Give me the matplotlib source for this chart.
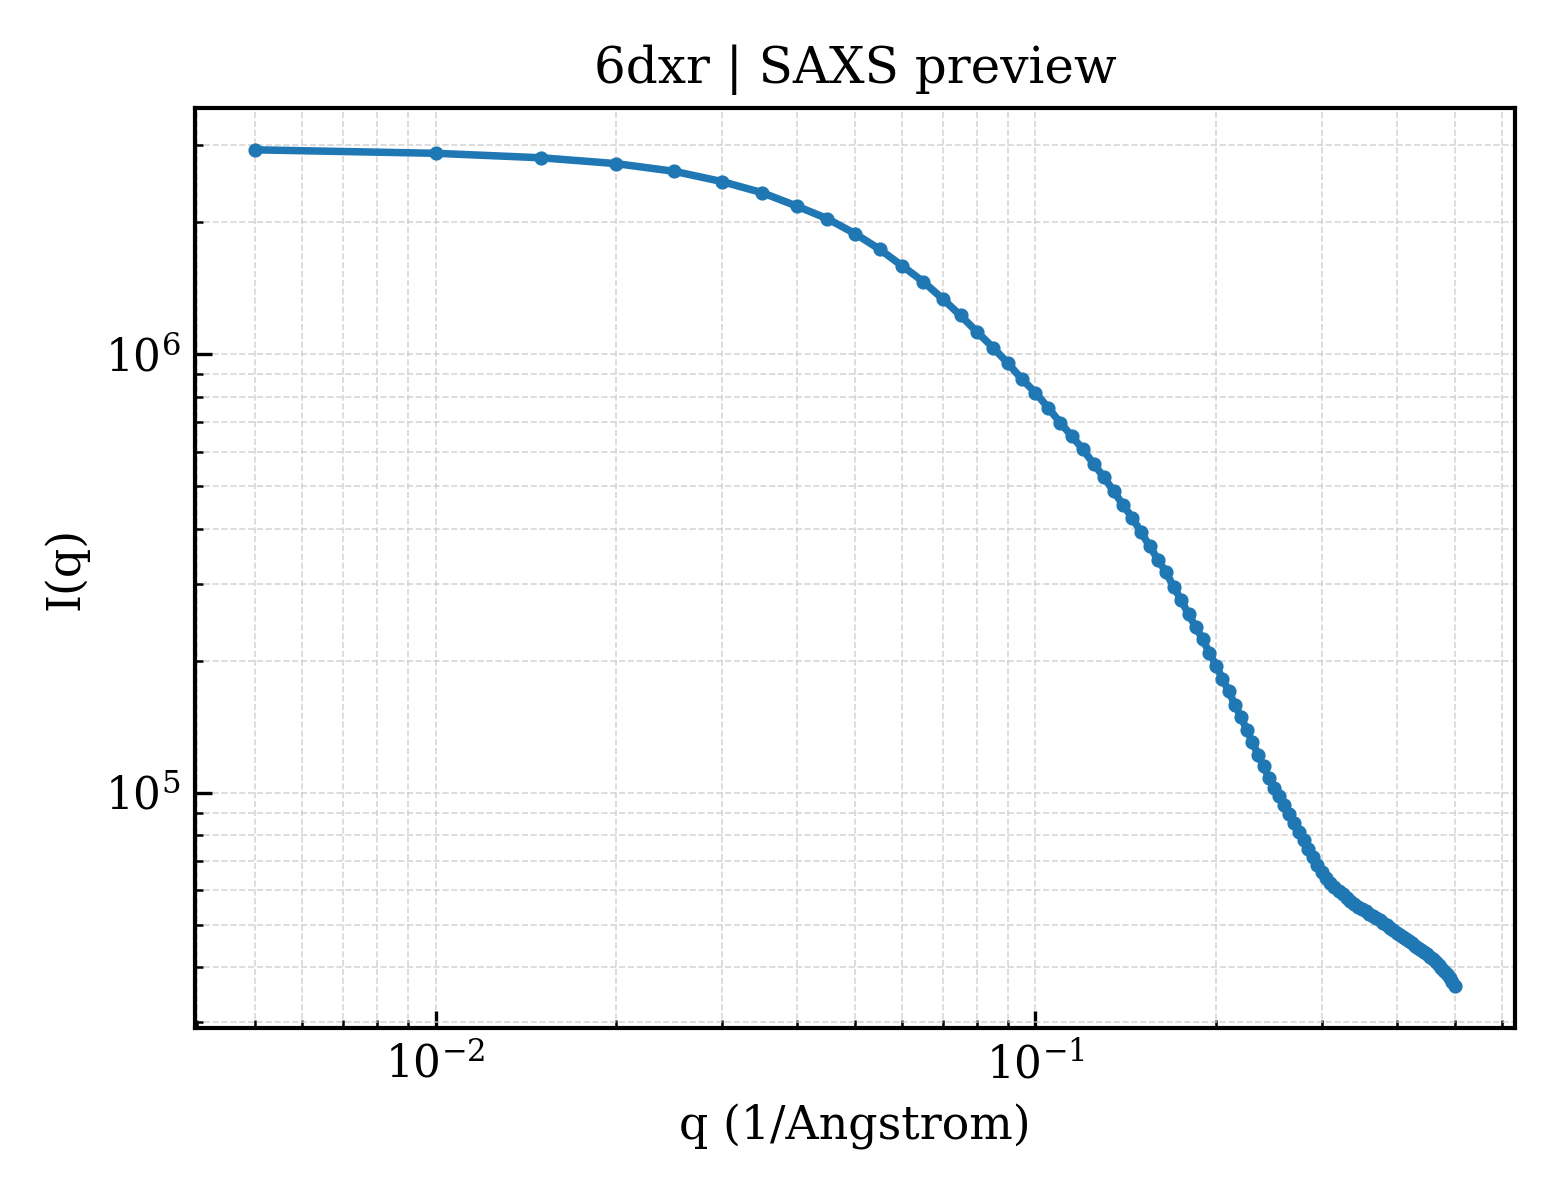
import numpy as np
import matplotlib
matplotlib.use("Agg")
import matplotlib.pyplot as plt

plt.rcParams['font.family'] = ['DejaVu Serif']
plt.rcParams['mathtext.fontset'] = 'dejavuserif'

# q values (1/Angstrom)
q = [0.005, 0.010, 0.015, 0.020, 0.025, 0.030, 0.035, 0.040, 0.045, 0.050,
     0.055, 0.060, 0.065, 0.070, 0.075, 0.080, 0.085, 0.090, 0.095, 0.100,
     0.105, 0.110, 0.115, 0.120, 0.125, 0.130, 0.135, 0.140, 0.145, 0.150,
     0.155, 0.160, 0.165, 0.170, 0.175, 0.180, 0.185, 0.190, 0.195, 0.200,
     0.205, 0.210, 0.215, 0.220, 0.225, 0.230, 0.235, 0.240, 0.245, 0.250,
     0.255, 0.260, 0.265, 0.270, 0.275, 0.280, 0.285, 0.290, 0.295, 0.300,
     0.305, 0.310, 0.315, 0.320, 0.325, 0.330, 0.335, 0.340, 0.345, 0.350,
     0.355, 0.360, 0.365, 0.370, 0.375, 0.380, 0.385, 0.390, 0.395, 0.400,
     0.405, 0.410, 0.415, 0.420, 0.425, 0.430, 0.435, 0.440, 0.445, 0.450,
     0.455, 0.460, 0.465, 0.470, 0.475, 0.480, 0.485, 0.490, 0.495, 0.500]

# I(q) intensities
intensity = [2.930e6, 2.877e6, 2.810e6, 2.725e6, 2.617e6, 2.480e6, 2.340e6, 2.180e6, 2.040e6, 1.887e6,
             1.737e6, 1.591e6, 1.466e6, 1.340e6, 1.227e6, 1.124e6, 1.036e6, 0.954e6, 0.877e6, 0.818e6,
             0.7555e6, 0.698e6, 0.651e6, 0.607e6, 0.563e6, 0.5247e6, 0.4875e6, 0.453e6, 0.4239e6, 0.393e6,
             0.365e6, 0.3404e6, 0.3184e6, 0.2949e6, 0.2748e6, 0.2550e6, 0.2390e6, 0.2236e6, 0.2084e6, 0.1950e6,
             0.1818e6, 0.1703e6, 0.1588e6, 0.1489e6, 0.1392e6, 0.1302e6, 0.1221e6, 0.1148e6, 0.1080e6, 0.1025e6,
             98.1e3, 93.6e3, 89.5e3, 85.4e3, 81.5e3, 78.0e3, 74.5e3, 71.3e3, 68.4e3, 65.9e3,
             63.9e3, 62.2e3, 60.9e3, 59.7e3, 58.6e3, 57.6e3, 56.6e3, 55.7e3, 54.9e3, 54.2e3,
             53.55e3, 52.95e3, 52.35e3, 51.75e3, 51.1e3, 50.45e3, 49.8e3, 49.15e3, 48.5e3, 47.85e3,
             47.28e3, 46.76e3, 46.25e3, 45.74e3, 45.26e3, 44.78e3, 44.27e3, 43.76e3, 43.23e3, 42.74e3,
             42.27e3, 41.77e3, 41.14e3, 40.49e3, 39.83e3, 39.2e3, 38.54e3, 37.76e3, 36.96e3, 36.16e3]

fig = plt.figure(figsize=(5.2, 4.0), dpi=300)
ax = fig.add_axes([0.125, 0.1433, 0.846, 0.7667])

ax.loglog(q, intensity, '-o', color='#1f77b4', linewidth=1.8, markersize=2.4)

ax.set_title('6dxr | SAXS preview', fontsize=12)
ax.set_xlabel('q (1/Angstrom)', fontsize=11)
ax.set_ylabel('I(q)', fontsize=11)

ax.grid(True, which='both', linestyle='--', linewidth=0.4, color='#cccccc', alpha=0.8)
ax.tick_params(which='both', direction='in', top=False, right=False, labelsize=10.5)
ax.tick_params(which='major', length=4, width=0.8)
ax.tick_params(which='minor', length=2, width=0.6)
for s in ax.spines.values():
    s.set_linewidth(1.0)

fig.savefig('out.png', dpi=300)
